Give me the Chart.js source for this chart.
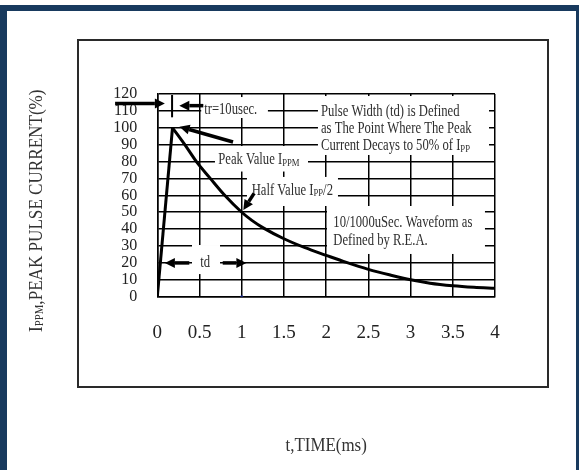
<!DOCTYPE html>
<html>
<head>
<meta charset="utf-8">
<script src="https://cdn.jsdelivr.net/npm/chart.js@4.4.0/dist/chart.umd.min.js"></script>
<style>
  html, body { margin: 0; padding: 0; background: #fff; }
  #wrap { width: 579px; height: 470px; position: relative; }
</style>
</head>
<body>
<div id="wrap"><canvas id="c" width="579" height="470"></canvas></div>
<script>
// ---- data ----
const xTickValues = [0, 0.5, 1, 1.5, 2, 2.5, 3, 3.5, 4];
const xTickLabels = ['0', '0.5', '1', '1.5', '2', '2.5', '3', '3.5', '4'];
const yTickValues = [0, 10, 20, 30, 40, 50, 60, 70, 80, 90, 100, 110, 120];
const riseTime = [0, 0.18];
const riseCurrent = [0, 100];
const decayTime = [0.18, 0.34, 0.47, 0.62, 0.79, 1.0, 1.12, 1.26, 1.5, 1.75, 2.0, 2.24, 2.5, 2.76, 3.0, 3.23, 3.5, 3.75, 4.0];
const decayCurrent = [100, 89, 79.5, 70.5, 60.5, 50, 45.2, 40.6, 34.3, 29.0, 24.5, 20.3, 16.2, 12.8, 10.0, 8.0, 6.5, 5.6, 5.0];
const markerTime = [1];
const markerCurrent = [0];

// ---- annotation layout (axis units) ----
const maskBoxes = [
  [0.52, 1.31, 118.2, 105.8],
  [1.903, 3.929, 118.8, 83.9],
  [0.683, 1.785, 89.2, 74.1],
  [1.062, 2.140, 70.9, 53.7],
  [2.010, 3.881, 53.7, 25.3],
  [0.411, 0.743, 30.6, 13.4]
];
const noteTexts = [
  { x: 0.555, y: 108.0, runs: [['tr=10usec.', 16, 0]] },
  { x: 1.939, y: 107.0, runs: [['Pulse Width (td) is Defined', 16, 0]] },
  { x: 1.939, y: 96.7, runs: [['as The Point Where The Peak', 16, 0]] },
  { x: 1.939, y: 86.7, runs: [['Current Decays to 50% of I', 16, 0], ['PP', 11, 2]] },
  { x: 0.722, y: 78.4, runs: [['Peak Value I', 16, 0], ['PPM', 11, 2]] },
  { x: 1.118, y: 60.2, runs: [['Half Value I', 16, 0], ['PP', 11, 1], ['/2', 16, 0]] },
  { x: 2.085, y: 41.1, runs: [['10/1000uSec. Waveform as', 16, 0]] },
  { x: 2.085, y: 30.6, runs: [['Defined by R.E.A.', 16, 0]] },
  { x: 0.508, y: 17.8, runs: [['td', 16, 0]] }
];
// arrows: [tailX, tailY, headX, headY]
const arrowList = [
  [-0.50, 114.4, 0.09, 114.4],
  [0.545, 113.1, 0.261, 113.1],
  [0.897, 91.6, 0.263, 100.6],
  [1.146, 61.2, 1.019, 51.3],
  [0.379, 20, 0.09, 20],
  [0.775, 20, 1.055, 20]
];
const tickMark = [0.175, 119.4, 0.175, 106.2];

const SERIF = '"Liberation Serif", "Times New Roman", Times, serif';
const TEXT_SCALE = 0.79;

function drawRuns(ctx, runs, x, y, sx) {
  ctx.save();
  ctx.translate(x, y);
  ctx.scale(sx, 1);
  let cx = 0;
  for (const [t, size, dy] of runs) {
    ctx.font = size + 'px ' + SERIF;
    ctx.fillText(t, cx, dy);
    cx += ctx.measureText(t).width;
  }
  ctx.restore();
  return cx * sx;
}
function runsWidth(ctx, runs, sx) {
  let w = 0;
  for (const [t, size] of runs) { ctx.font = size + 'px ' + SERIF; w += ctx.measureText(t).width; }
  return w * sx;
}
function arrow(ctx, x1, y1, x2, y2) {
  const a = Math.atan2(y2 - y1, x2 - x1);
  const hl = 10, hw = 5;
  const bx = x2 - hl * Math.cos(a), by = y2 - hl * Math.sin(a);
  ctx.lineWidth = 3.5;
  ctx.beginPath(); ctx.moveTo(x1, y1); ctx.lineTo(bx, by); ctx.stroke();
  ctx.beginPath();
  ctx.moveTo(x2, y2);
  ctx.lineTo(bx + hw * Math.sin(a), by - hw * Math.cos(a));
  ctx.lineTo(bx - hw * Math.sin(a), by + hw * Math.cos(a));
  ctx.closePath(); ctx.fill();
}

const framePlugin = {
  id: 'frame',
  beforeDraw(chart) {
    const ctx = chart.ctx;
    ctx.save();
    ctx.fillStyle = '#fff';
    ctx.fillRect(0, 0, chart.width, chart.height);
    ctx.fillStyle = '#183a5e';
    ctx.fillRect(0, 5, chart.width, 6);
    ctx.fillRect(0, 5, 7, chart.height - 5);
    ctx.fillRect(chart.width - 3, 5, 3, chart.height - 5);
    ctx.strokeStyle = '#2a2a2a';
    ctx.lineWidth = 2;
    ctx.strokeRect(78, 40, 470, 347);
    ctx.restore();
  }
};

const notesPlugin = {
  id: 'notes',
  beforeDatasetsDraw(chart) {
    const ctx = chart.ctx, xs = chart.scales.x, ys = chart.scales.y;
    const X = v => xs.getPixelForValue(v), Y = v => ys.getPixelForValue(v);
    ctx.save();
    ctx.fillStyle = '#fff';
    for (const [x0, x1, y0, y1] of maskBoxes) {
      ctx.fillRect(X(x0), Y(y0), X(x1) - X(x0), Y(y1) - Y(y0));
    }
    ctx.fillStyle = '#2e2e2e';
    ctx.textBaseline = 'alphabetic';
    ctx.textAlign = 'left';
    for (const n of noteTexts) drawRuns(ctx, n.runs, X(n.x), Y(n.y), TEXT_SCALE);
    ctx.fillStyle = '#000';
    ctx.strokeStyle = '#000';
    for (const [a, b, c, d] of arrowList) arrow(ctx, X(a), Y(b), X(c), Y(d));
    ctx.lineWidth = 2;
    ctx.beginPath(); ctx.moveTo(X(tickMark[0]), Y(tickMark[1])); ctx.lineTo(X(tickMark[2]), Y(tickMark[3])); ctx.stroke();
    ctx.restore();
  },
  afterDraw(chart) {
    const ctx = chart.ctx, area = chart.chartArea;
    ctx.save();
    ctx.fillStyle = '#333';
    ctx.textBaseline = 'middle';
    const yRuns = [['I', 19, 0], ['PPM', 12, 3], [',PEAK PULSE CURRENT(%)', 19, 0]];
    ctx.save();
    ctx.translate(area.left - 120, area.bottom - 86);
    ctx.rotate(-Math.PI / 2);
    const wy = runsWidth(ctx, yRuns, 0.9);
    drawRuns(ctx, yRuns, -wy / 2, 0, 0.9);
    ctx.restore();
    const xRuns = [['t,TIME(ms)', 18, 0]];
    const wx = runsWidth(ctx, xRuns, 0.94);
    drawRuns(ctx, xRuns, (area.left + area.right) / 2 - wx / 2, area.bottom + 150, 0.94);
    ctx.restore();
  }
};

const toPoints = (xs, ys) => xs.map((x, i) => ({ x, y: ys[i] }));

new Chart(document.getElementById('c'), {
  type: 'line',
  data: {
    datasets: [
      { label: 'rise', data: toPoints(riseTime, riseCurrent), borderColor: '#000', borderWidth: 3, pointRadius: 0, tension: 0, fill: false },
      { label: 'decay', data: toPoints(decayTime, decayCurrent), borderColor: '#000', borderWidth: 3, pointRadius: 0, cubicInterpolationMode: 'monotone', fill: false },
      { label: 'marker', data: toPoints(markerTime, markerCurrent), showLine: false, pointRadius: 1.5, pointBackgroundColor: '#1a2a9a', pointBorderWidth: 0 }
    ]
  },
  options: {
    responsive: false,
    animation: false,
    devicePixelRatio: 1,
    layout: { padding: { top: 94, right: 84, left: 0, bottom: 0 } },
    plugins: { legend: { display: false }, tooltip: { enabled: false } },
    scales: {
      x: {
        type: 'linear', min: 0, max: 4,
        afterBuildTicks(scale) { scale.ticks = xTickValues.map(v => ({ value: v })); },
        afterFit(scale) { scale.height = 173.3; },
        ticks: {
          autoSkip: false, maxRotation: 0, padding: 25, color: '#222',
          font: { family: SERIF, size: 19 },
          callback: (v, i) => xTickLabels[xTickValues.indexOf(v)] ?? String(v)
        },
        grid: { color: '#000', lineWidth: 1.5, drawTicks: false },
        border: { color: '#000', width: 1.5 }
      },
      y: {
        type: 'linear', min: 0, max: 120,
        afterBuildTicks(scale) { scale.ticks = yTickValues.map(v => ({ value: v })); },
        afterFit(scale) { scale.width = 157.3; },
        ticks: { autoSkip: false, padding: 20, color: '#222', font: { family: SERIF, size: 16 } },
        grid: { color: '#000', lineWidth: 1.5, drawTicks: false },
        border: { color: '#000', width: 1.5 }
      }
    }
  },
  plugins: [framePlugin, notesPlugin]
});
</script>
</body>
</html>
